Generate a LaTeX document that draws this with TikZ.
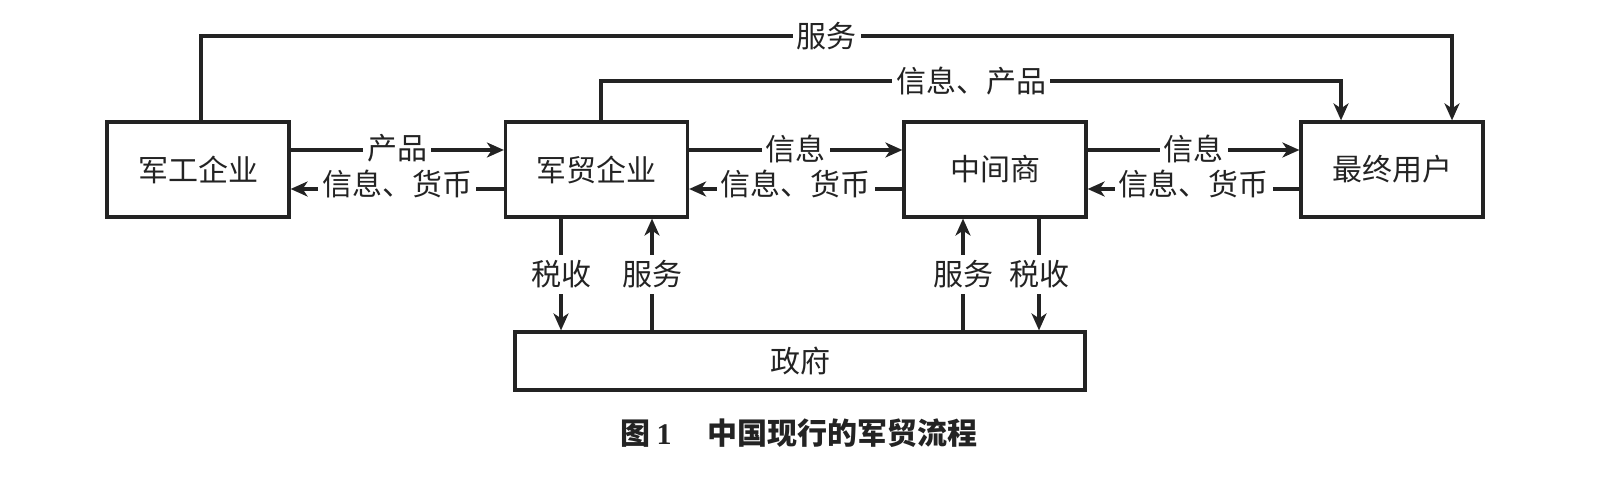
\documentclass[tikz,border=0pt]{standalone}
\usepackage{fontspec}
\setmainfont{Liberation Serif}
\newfontfamily\cjk{Noto Sans CJK SC}
\usetikzlibrary{arrows.meta,calc}
\definecolor{ink}{RGB}{35,35,35}
\begin{document}
\begin{tikzpicture}[x=0.5pt,y=-0.5pt,
  box/.style={draw=ink, line width=1.6pt, rectangle, minimum width=91pt, minimum height=47.5pt, inner sep=0pt, font=\cjk\fontsize{15pt}{18pt}\selectfont, text=ink},
  arr/.style={draw=ink, line width=1.6pt, -{Stealth[length=8.5pt,width=7.5pt,inset=2.5pt]}},
  lbl/.style={fill=white, inner xsep=2pt, inner ysep=1pt, font=\cjk\fontsize{15pt}{18pt}\selectfont, text=ink},
  vlbl/.style={fill=white, inner xsep=1pt, inner ysep=3pt, font=\cjk\fontsize{15pt}{18pt}\selectfont, text=ink},
]
\useasboundingbox (0,0) rectangle (1620,480);

\node[box] (A) at (198,169.5) {军工企业};
\node[box] (B) at (596.5,169.5) {军贸企业};
\node[box] (C) at (995,169.5) {中间商};
\node[box] (D) at (1392,169.5) {最终用户};
\node[box, minimum width=285pt, minimum height=29pt] (G) at (800,361) {政府};

% horizontal flows
\draw[arr] ([yshift=9.75pt]A.east) -- node[lbl,yshift=0.75pt]{产品} ([yshift=9.75pt]B.west);
\draw[arr] ([yshift=-9.75pt]B.west) -- node[lbl,yshift=2.5pt]{信息、货币} ([yshift=-9.75pt]A.east);
\draw[arr] ([yshift=9.75pt]B.east) -- node[lbl,yshift=0.75pt]{信息} ([yshift=9.75pt]C.west);
\draw[arr] ([yshift=-9.75pt]C.west) -- node[lbl,yshift=2.5pt]{信息、货币} ([yshift=-9.75pt]B.east);
\draw[arr] ([yshift=9.75pt]C.east) -- node[lbl,yshift=0.75pt]{信息} ([yshift=9.75pt]D.west);
\draw[arr] ([yshift=-9.75pt]D.west) -- node[lbl,yshift=2.5pt]{信息、货币} ([yshift=-9.75pt]C.east);

% vertical flows with government
\draw[arr] ([xshift=-17.75pt]B.south) -- node[vlbl]{税收} ([xshift=-17.75pt]B.south |- G.north);
\draw[arr] ([xshift=27.75pt]B.south |- G.north) -- node[vlbl]{服务} ([xshift=27.75pt]B.south);
\draw[arr] ([xshift=-16pt]C.south |- G.north) -- node[vlbl]{服务} ([xshift=-16pt]C.south);
\draw[arr] ([xshift=22pt]C.south) -- node[vlbl]{税收} ([xshift=22pt]C.south |- G.north);

% top flows
\coordinate (s1) at (1452,36);
\draw[arr] ([xshift=1.5pt]A.north) |- node[lbl,pos=0.75]{服务} (s1) -- (s1 |- D.north);
\coordinate (s2) at (1341,81);
\draw[arr] ([xshift=2.25pt]B.north) |- node[lbl,pos=0.75]{信息、产品} (s2) -- (s2 |- D.north);

% caption
\node[font=\cjk\bfseries\fontsize{15pt}{18pt}\selectfont, text=ink, inner sep=0pt] (cap) at (799,433) {图\hspace{0.2em}{\rmfamily\bfseries 1}\hspace{1.2em}中国现行的军贸流程};
\end{tikzpicture}
\end{document}
